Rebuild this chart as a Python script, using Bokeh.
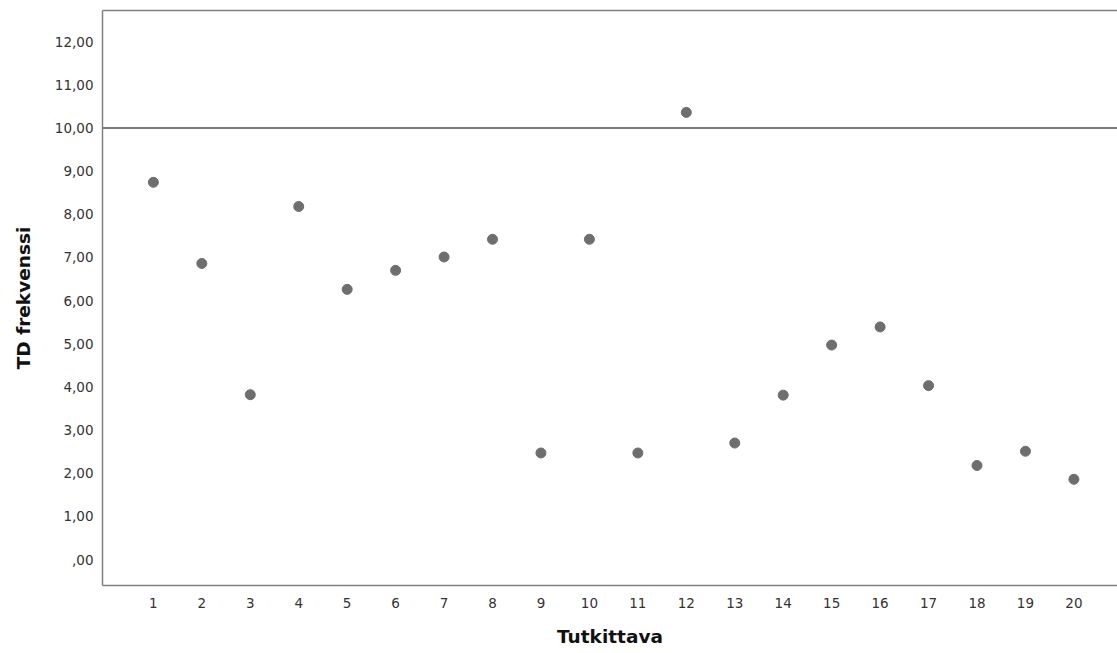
from bokeh.plotting import figure
from bokeh.models import Range1d, FixedTicker, LinearAxis, Span
from bokeh.embed import file_html
from bokeh.resources import INLINE

# ---- data ----
subjects = list(range(1, 21))
td_freq = [8.74, 6.86, 3.82, 8.18, 6.26, 6.70, 7.01, 7.42, 2.47, 7.42,
           2.47, 10.36, 2.70, 3.81, 4.97, 5.39, 4.03, 2.18, 2.51, 1.86]
reference_value = 10
y_ticks = list(range(0, 13))
y_tick_labels = [",00"] + [f"{v},00" for v in range(1, 13)]
x_label = "Tutkittava"
y_label = "TD frekvenssi"

FONT = "DejaVu Sans"
AXIS_COLOR = "#808080"

p = figure(width=1117, height=653, output_backend="svg", toolbar_location=None,
           x_range=Range1d(-0.05, 20.9), y_range=Range1d(-0.6, 12.72),
           x_axis_location=None, y_axis_location=None)
p.min_border_left = 102
p.min_border_right = 0
p.min_border_top = 10
p.min_border_bottom = 68
p.outline_line_color = None
p.xgrid.visible = False
p.ygrid.visible = False
p.background_fill_color = "white"
p.border_fill_color = "white"

def style_axis(ax):
    ax.axis_line_color = AXIS_COLOR
    ax.axis_line_width = 1.5
    ax.major_tick_line_color = None
    ax.minor_tick_line_color = None
    ax.major_label_text_font = FONT
    ax.major_label_text_font_size = "13.5px"
    ax.major_label_text_color = "#333333"
    ax.axis_label_text_font = FONT
    ax.axis_label_text_font_style = "bold"
    ax.axis_label_text_font_size = "18.5px"
    ax.axis_label_text_color = "#111111"

xaxis = LinearAxis(ticker=FixedTicker(ticks=subjects), axis_label=x_label)
style_axis(xaxis)
xaxis.major_label_standoff = 6
xaxis.axis_label_standoff = 15
p.add_layout(xaxis, "below")

yaxis = LinearAxis(ticker=FixedTicker(ticks=y_ticks), axis_label=y_label)
style_axis(yaxis)
yaxis.major_label_overrides = {t: lab for t, lab in zip(y_ticks, y_tick_labels)}
yaxis.major_label_standoff = 3
yaxis.axis_label_standoff = 18
p.add_layout(yaxis, "left")

top_axis = LinearAxis(ticker=FixedTicker(ticks=[]))
top_axis.axis_line_color = AXIS_COLOR
top_axis.axis_line_width = 1.5
top_axis.major_tick_line_color = None
top_axis.minor_tick_line_color = None
top_axis.major_label_text_font_size = "0px"
top_axis.major_label_standoff = 0
p.add_layout(top_axis, "above")

ref = Span(location=reference_value, dimension="width", line_color="#7a7a7a", line_width=2)
p.add_layout(ref)

p.scatter(subjects, td_freq, size=10, fill_color="#6e6e6e", line_color="#6e6e6e", line_width=1)

open("out.html", "w").write(file_html(p, INLINE))
